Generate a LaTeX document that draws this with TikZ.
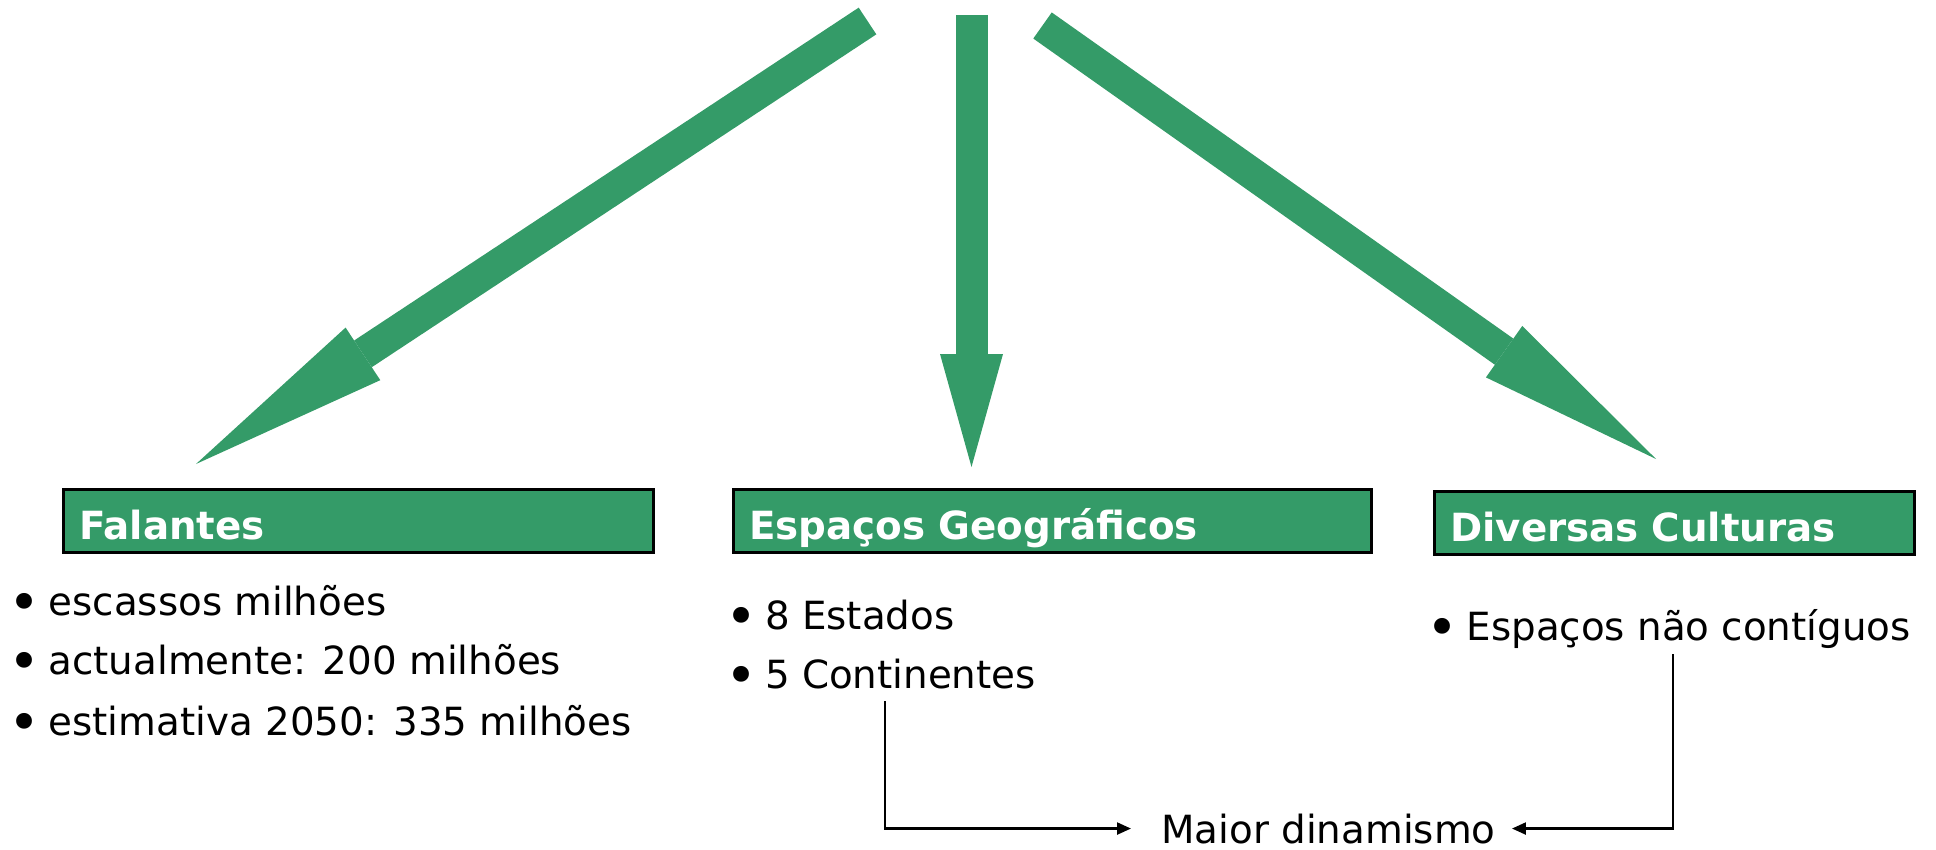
\documentclass[tikz,border=0pt]{standalone}
\usepackage{fontspec}
\setmainfont{DejaVu Sans}
\usetikzlibrary{arrows.meta}
\definecolor{verde}{HTML}{349B68}
\newcommand{\blt}{\makebox[0.59em]{\raisebox{-0.17em}{\scalebox{1.4}{•}}} }
\begin{document}
\begin{tikzpicture}[x=0.5pt,y=-0.5pt,
    seta/.style={line width=16pt,draw=verde},
    caixa/.style={draw=black,line width=1.3pt,fill=verde,text=white,
      font=\fontsize{19.4pt}{23pt}\selectfont\bfseries,anchor=north west,
      minimum height=31.5pt,inner xsep=8pt,inner ysep=0pt,
      text height=18.5pt,text depth=0pt,align=left},
    item/.style={anchor=base west,inner sep=0pt,
      font=\fontsize{19.4pt}{23pt}\selectfont},
    liga/.style={line width=1.1pt,-{Triangle[length=7pt,width=6pt]}}]
  \useasboundingbox (0,0) rectangle (1936,850);
  \coordinate (cauda-e) at (867.5,21);
  \coordinate (ponta-e) at (196,464);
  \coordinate (cauda-m) at (971.5,15);
  \coordinate (ponta-m) at (971.5,467);
  \coordinate (cauda-d) at (1042.5,25.5);
  \coordinate (ponta-d) at (1656,459);
  \draw[seta,-{Triangle[length=100pt,width=31.5pt,line width=0pt]}] (cauda-e) -- (ponta-e);
  \draw[seta,-{Triangle[length=56.5pt,width=31.5pt,line width=0pt]}] (cauda-m) -- (ponta-m);
  \draw[seta,-{Triangle[length=93pt,width=31.5pt,line width=0pt]}] (cauda-d) -- (ponta-d);
  \node[caixa,text width=279pt] (falantes) at (62,488) {Falantes};
  \node[caixa,text width=303pt] (espacos) at (732,488) {Espaços Geográficos};
  \node[caixa,text width=224pt] (culturas) at (1433,490) {Diversas Culturas};
  \node[item] (f1) at (13,615) {\blt escassos milhões};
  \node[item] (f2) at (13,674) {\blt actualmente: 200 milhões};
  \node[item] (f3) at (13,735) {\blt estimativa 2050: 335 milhões};
  \node[item] (e1) at (729.5,629) {\blt 8 Estados};
  \node[item] (e2) at (729.5,688) {\blt 5 Continentes};
  \node[item] (c1) at (1431,640) {\blt Espaços não contíguos};
  \node[item] (maior) at (1161,843) {Maior dinamismo};
  \coordinate (de-e2) at (885,701);
  \coordinate (de-c1) at (1673,654);
  \draw[liga,shorten >=15pt] (de-e2) |- (maior.west);
  \draw[liga,shorten >=8pt] (de-c1) |- (maior.east);
\end{tikzpicture}
\end{document}
